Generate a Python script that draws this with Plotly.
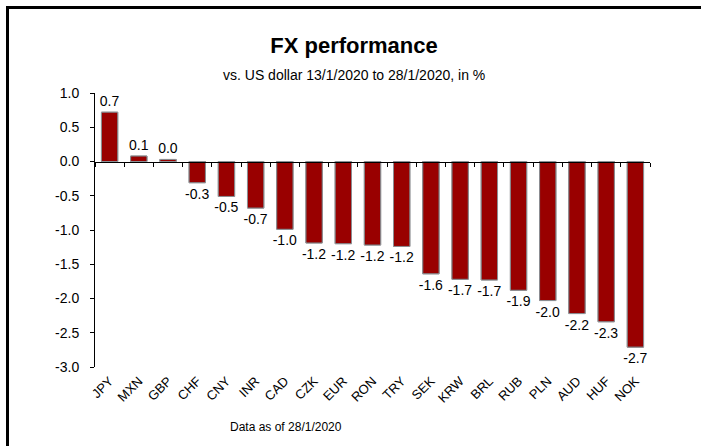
import plotly.graph_objects as go

currencies = ["JPY", "MXN", "GBP", "CHF", "CNY", "INR", "CAD", "CZK", "EUR", "RON",
              "TRY", "SEK", "KRW", "BRL", "RUB", "PLN", "AUD", "HUF", "NOK"]
performance = [0.72, 0.08, 0.03, -0.31, -0.51, -0.68, -0.99, -1.19, -1.20, -1.22,
               -1.24, -1.64, -1.72, -1.73, -1.88, -2.03, -2.22, -2.34, -2.71]
y_ticks = [1.0, 0.5, 0.0, -0.5, -1.0, -1.5, -2.0, -2.5, -3.0]

FONT = "Liberation Sans, Arial, sans-serif"
W, H = 701, 446
L, R, T, B = 95, 51, 93, 79
pw, ph = W - L - R, H - T - B

def px_x(x):
    return (x - L) / pw

def px_y(y):
    return (H - B - y) / ph

labels = [f"{v:.1f}" for v in performance]

fig = go.Figure()
fig.add_trace(go.Bar(
    x=currencies, y=performance,
    marker=dict(color="#990000", line=dict(color="#333333", width=1)),
    text=labels, textposition="outside", constraintext="none",
    textfont=dict(family=FONT, size=14, color="#000000"),
    cliponaxis=False, hoverinfo="x+y",
))
fig.add_trace(go.Bar(
    x=currencies, y=performance, xaxis="x2",
    marker=dict(color="rgba(0,0,0,0)"), hoverinfo="skip", showlegend=False,
))

fig.update_layout(
    width=W, height=H,
    margin=dict(l=L, r=R, t=T, b=B, pad=0),
    paper_bgcolor="white", plot_bgcolor="white",
    showlegend=False,
    bargap=0.44,
    barmode="overlay",
    font=dict(family=FONT, size=14, color="#000000"),
    title=dict(text="<b>FX performance</b>", font=dict(family=FONT, size=22, color="#000000"),
               x=354 / W, xref="container", xanchor="center",
               y=1 - 45 / H, yref="container", yanchor="middle"),
    xaxis=dict(type="category", showline=False, ticks="", tickangle=-45,
               tickfont=dict(family=FONT, size=13), showgrid=False, zeroline=False,
               ticklabelstandoff=3),
    xaxis2=dict(type="category", overlaying="x", matches="x", anchor="free", position=0.75,
                showline=True, linecolor="#000000", linewidth=1,
                ticks="outside", tickson="boundaries", ticklen=4, tickcolor="#000000",
                showticklabels=False, showgrid=False, zeroline=False),
    yaxis=dict(range=[-3, 1], tickvals=y_ticks, ticktext=[f"{v:.1f}" for v in y_ticks],
               showline=True, linecolor="#000000", linewidth=1,
               ticks="outside", ticklen=4, tickcolor="#000000",
               showgrid=False, zeroline=False, tickfont=dict(family=FONT, size=14),
               ticklabelstandoff=8),
    shapes=[
        dict(type="line", xref="paper", yref="paper", x0=px_x(7.5), x1=px_x(705),
             y0=px_y(7.5), y1=px_y(7.5), line=dict(color="#000000", width=3)),
        dict(type="line", xref="paper", yref="paper", x0=px_x(7.5), x1=px_x(7.5),
             y0=px_y(6), y1=px_y(450), line=dict(color="#000000", width=3)),
    ],
    annotations=[
        dict(text="vs. US dollar 13/1/2020 to 28/1/2020, in %", xref="paper", yref="paper",
             x=px_x(354), y=px_y(75), xanchor="center", yanchor="middle", showarrow=False,
             font=dict(family=FONT, size=14, color="#000000")),
        dict(text="Data as of 28/1/2020", xref="paper", yref="paper",
             x=px_x(286), y=px_y(427), xanchor="center", yanchor="middle", showarrow=False,
             font=dict(family=FONT, size=12, color="#000000")),
    ],
)

fig.write_html("out.html", config={"displayModeBar": False},
               post_script="document.body.style.margin='0';document.body.style.overflow='hidden';")
